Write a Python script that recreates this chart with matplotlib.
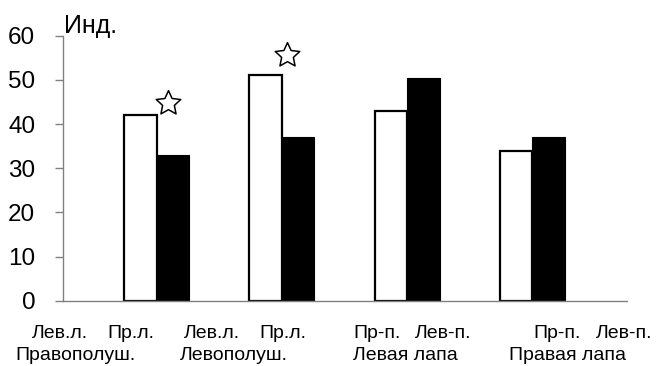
import matplotlib
matplotlib.use("Agg")
import matplotlib.pyplot as plt
import numpy as np
from matplotlib.path import Path

plt.rcParams['font.family'] = ['Liberation Sans', 'DejaVu Sans']

# Data
groups = ["Правополуш.", "Левополуш.", "Левая лапа", "Правая лапа"]
sub_labels = [["Лев.л.", "Пр.л."], ["Лев.л.", "Пр.л."],
              ["Пр-п.", "Лев-п."], ["Пр-п.", "Лев-п."]]
white_values = [42, 51, 43, 34]
black_values = [33, 37, 50.5, 37]
y_ticks = [0, 10, 20, 30, 40, 50, 60]
y_label = "Инд."
significant = [True, True, False, False]

W, H, DPI = 656, 366, 100
fig = plt.figure(figsize=(W / DPI, H / DPI), dpi=DPI)

# axes box in pixels
x0, x1 = 62.7, 626.7
y0, y1 = 300.7, 35.7
ax = fig.add_axes([x0 / W, 1 - y0 / H, (x1 - x0) / W, (y0 - y1) / H])

step = 125.3
first_center = 156.5
ax.set_xlim((x0 - first_center) / step, (x1 - first_center) / step)
ax.set_ylim(0, 60)

x = np.arange(len(groups))
bw = 0.26
ax.bar(x - bw / 2, white_values, bw, color="white", edgecolor="black",
       linewidth=1.6, zorder=2)
ax.bar(x + bw / 2, black_values, bw, color="black", edgecolor="black",
       linewidth=0.8, zorder=2)

# outline star markers for significant pairs
star = Path.unit_regular_star(5, innerCircle=0.48)
star_pos = [(0.088, 44.8), (1.04, 55.6)]
for (sx, sy), sig in zip(star_pos, significant):
    if sig:
        ax.plot(sx, sy, marker=star, markersize=18.5, markerfacecolor="white",
                markeredgecolor="black", markeredgewidth=1.1, zorder=3)

for s in ["top", "right"]:
    ax.spines[s].set_visible(False)
for s in ["left", "bottom"]:
    ax.spines[s].set_color("#808080")
    ax.spines[s].set_linewidth(1.0)

ax.set_yticks(y_ticks)
ax.set_yticklabels([str(v) for v in y_ticks], fontsize=17.5)
ax.tick_params(axis="y", direction="out", length=5.8, width=1.0,
               color="#808080", pad=14, labelcolor="black")
ax.set_xticks([])

fig.text(64 / W, 1 - 33 / H, y_label, fontsize=18, ha="left",
         va="baseline")

# two-row category labels under the axis
sub_x = [(32, 107), (184, 259), (353, 415), (533, 596)]
group_x = [15, 180, 353, 509]
for (a, b), (la, lb), gx, g in zip(sub_x, sub_labels, group_x, groups):
    fig.text(a / W, 1 - 338 / H, la, fontsize=14, ha="left", va="baseline")
    fig.text(b / W, 1 - 338 / H, lb, fontsize=14, ha="left", va="baseline")
    fig.text(gx / W, 1 - 360 / H, g, fontsize=14, ha="left", va="baseline")

fig.savefig("out.png", dpi=DPI)
